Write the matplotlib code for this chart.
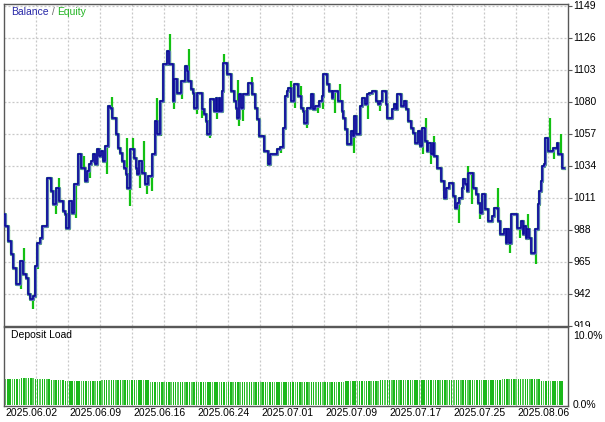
import numpy as np
import matplotlib
matplotlib.use("Agg")
import matplotlib.pyplot as plt
from matplotlib.transforms import Bbox, blended_transform_factory, TransformedBbox

plt.rcParams['font.family'] = ['Liberation Sans', 'DejaVu Sans']

# ---------------- data ----------------
# position of each balance change on the tester's time axis, and balance after it
bal_x = [4, 5, 8, 11, 13, 16, 20, 23, 26, 28, 30, 33, 35, 37, 40, 42, 47, 51, 53, 56,
         59, 63, 65, 66, 69, 72, 74, 78, 81, 85, 87, 89, 91, 93, 95, 97, 99, 101, 103, 105,
         108, 110, 112, 116, 118, 120, 122, 124, 126, 127, 130, 134, 136, 137, 139, 142, 145, 148, 152, 155,
         157, 160, 163, 167, 169, 173, 174, 177, 181, 185, 187, 188, 191, 193, 194, 197, 202, 204, 206, 207,
         210, 214, 216, 217, 219, 220, 222, 223, 227, 231, 234, 236, 237, 239, 241, 243, 248, 252, 255, 257,
         259, 264, 268, 270, 277, 280, 283, 285, 287, 288, 291, 294, 298, 301, 303, 304, 307, 311, 313, 315,
         319, 322, 323, 327, 329, 332, 333, 338, 342, 343, 345, 347, 351, 353, 354, 356, 360, 362, 365, 367,
         369, 372, 376, 378, 380, 382, 386, 387, 392, 394, 396, 397, 401, 404, 406, 408, 411, 413, 415, 418,
         420, 422, 425, 427, 428, 431, 433, 434, 437, 441, 444, 446, 449, 453, 455, 457, 459, 462, 463, 465,
         467, 468, 473, 476, 478, 480, 482, 485, 488, 492, 494, 498, 500, 504, 506, 507, 509, 511, 517, 521,
         523, 524, 526, 527, 529, 531, 535, 538, 539, 541, 542, 544, 545, 548, 553, 557, 558, 562, 564]
bal_v = [999.5, 990.9, 980.1, 970.8, 960.7, 949.2, 965.7, 956.4, 953.5, 942.0, 938.4, 940.6, 962.1, 978.7, 982.3, 990.9, 1025.4, 1016.0, 1006.7, 1018.2,
         1008.8, 1001.7, 999.5, 989.4, 1008.8, 1000.2, 1021.1, 1042.6, 1032.6, 1023.2, 1030.4, 1035.4, 1037.6, 1042.6, 1035.4, 1046.2, 1041.2, 1044.8, 1037.6, 1048.4,
         1077.1, 1075.7, 1068.5, 1057.0, 1046.9, 1043.3, 1037.6, 1032.6, 1028.3, 1018.2, 1046.2, 1039.8, 1032.6, 1028.3, 1037.6, 1029.0, 1021.1, 1026.8, 1042.6, 1066.3,
         1057.0, 1080.7, 1107.3, 1116.7, 1107.3, 1080.7, 1096.5, 1086.5, 1095.1, 1105.9, 1102.3, 1095.1, 1089.3, 1086.5, 1075.7, 1086.5, 1075.0, 1071.4, 1066.3, 1057.0,
         1082.2, 1073.5, 1082.9, 1073.5, 1082.9, 1073.5, 1087.9, 1108.0, 1100.1, 1087.9, 1080.7, 1075.7, 1068.5, 1085.8, 1075.7, 1085.8, 1093.7, 1085.8, 1075.7, 1067.8,
         1055.6, 1044.8, 1035.4, 1042.6, 1046.2, 1047.5, 1061.3, 1084.3, 1087.9, 1090.1, 1080.7, 1092.9, 1084.3, 1075.7, 1073.5, 1064.9, 1075.7, 1085.8, 1075.0, 1077.1,
         1080.7, 1084.3, 1100.1, 1093.0, 1087.9, 1082.9, 1087.9, 1080.7, 1073.5, 1068.5, 1060.6, 1049.8, 1059.2, 1055.6, 1069.9, 1057.0, 1077.1, 1082.9, 1078.6, 1085.8,
         1086.5, 1087.9, 1080.7, 1078.6, 1080.7, 1087.9, 1078.6, 1068.5, 1075.0, 1078.6, 1075.0, 1085.8, 1077.1, 1080.7, 1075.0, 1066.3, 1061.3, 1057.7, 1050.5, 1059.2,
         1048.4, 1061.3, 1052.0, 1044.8, 1050.5, 1042.6, 1050.5, 1041.2, 1032.6, 1023.2, 1011.0, 1018.2, 1021.8, 1012.4, 1003.8, 1007.4, 1011.0, 1018.2, 1024.7, 1021.1,
         1016.0, 1029.0, 1018.2, 1013.9, 1007.4, 1000.2, 1013.9, 1003.1, 994.5, 998.1, 1003.8, 994.5, 985.1, 988.7, 978.7, 988.7, 978.7, 999.5, 989.4, 994.5,
         985.1, 990.9, 982.3, 988.7, 982.3, 971.5, 988.7, 1006.7, 1016.0, 1023.2, 1034.0, 1035.4, 1054.1, 1044.8, 1046.9, 1050.5, 1042.6, 1032.6, 1032.6]

# equity extremes (floating P/L excursions) away from the balance line
eq_x = [20, 23, 32, 37, 55, 58, 75, 83, 89, 99, 106, 111, 126, 129, 132, 139, 143, 146, 151, 156,
        160, 169, 173, 181, 188, 196, 201, 209, 216, 223, 237, 238, 242, 251, 267, 280, 290, 294, 300, 306,
        317, 322, 334, 339, 353, 367, 379, 422, 425, 430, 433, 443, 458, 467, 471, 479, 497, 509, 519, 527,
        535, 549, 553, 560]
eq_v = [945.6, 975.1, 931.2, 960.0, 999.5, 1025.4, 996.6, 1041.2, 1025.4, 1046.9, 1028.3, 1083.6, 1054.1, 1005.3, 1054.1, 1018.2, 1052.0, 1013.9, 1016.0, 1082.9,
        1055.6, 1128.9, 1075.0, 1082.2, 1118.1, 1071.4, 1068.5, 1054.1, 1067.8, 1114.5, 1095.8, 1062.8, 1066.3, 1098.0, 1034.0, 1043.3, 1095.1, 1075.7, 1091.5, 1061.3,
        1072.1, 1075.0, 1072.1, 1092.9, 1043.3, 1067.8, 1073.5, 1042.6, 1068.5, 1035.4, 1055.6, 1016.0, 993.0, 1034.0, 1006.7, 995.9, 1018.2, 971.5, 982.3, 999.5,
        963.6, 1068.5, 1039.0, 1057.0]

# deposit load (%) read per stretch of the test
load_start = [4, 20, 35, 50, 65, 100, 130, 150, 200, 240, 300, 345, 380, 440, 500, 540]
load_pct = [3.7, 3.9, 3.7, 3.6, 3.5, 3.55, 3.6, 3.4, 3.3, 3.4, 3.3, 3.5, 3.6, 3.6, 3.75, 3.5]

y_ticks = [919, 942, 965, 988, 1011, 1034, 1057, 1080, 1103, 1126, 1149]
date_pos = [4, 68, 132, 196, 260, 324, 388, 452, 516]
date_labels = ["2025.06.02", "2025.06.09", "2025.06.16", "2025.06.24", "2025.07.01",
               "2025.07.09", "2025.07.17", "2025.07.25", "2025.08.06"]

# ---------------- figure ----------------
W, H = 605, 422
fig = plt.figure(figsize=(W / 100, H / 100), dpi=100)
fig.patch.set_facecolor('white')

def rect(l, t, r, b):
    return [l / W, 1 - b / H, (r - l) / W, (b - t) / H]

ax = fig.add_axes(rect(4, 4, 568, 326))
ax2 = fig.add_axes(rect(4, 327, 568, 406))

frame_c = '#585858'
grid_c = '#c8c8c8'
XMIN, XMAX = 4, 568
for a in (ax, ax2):
    a.set_xlim(XMIN, XMAX)
    for s in a.spines.values():
        s.set_color(frame_c)
        s.set_linewidth(1.0)
    a.set_xticks([])
    a.tick_params(left=False, labelleft=False, bottom=False, labelbottom=False)
    for gx in range(36, 568, 32):
        a.axvline(gx, color=grid_c, lw=0.9, ls=(0, (1.6, 1.6)), zorder=0)

ax.set_ylim(919, 1149 + 1.5)
for yv in y_ticks[1:]:
    ax.axhline(yv, color=grid_c, lw=0.9, ls=(0, (1.6, 1.6)), zorder=0)

bx = np.array(bal_x, dtype=float)
bv = np.array(bal_v, dtype=float)

# equity: follows balance and spikes out at the excursions
green = '#12c012'
ax.step(bx, bv, where='post', color=green, lw=2.3, zorder=2)
idx = np.searchsorted(bx, np.array(eq_x), side='right') - 1
ax.vlines(np.array(eq_x, dtype=float) + 0.8, bv[idx], np.array(eq_v), color=green, lw=1.6, zorder=2)
# balance (light halo + dark core)
ax.step(bx, bv, where='post', color='#6a6ad8', lw=1.9, zorder=3)
ax.step(bx, bv, where='post', color='#0c0c96', lw=1.2, zorder=4)

# right-side y labels
ax.yaxis.tick_right()
ax.set_yticks(y_ticks)
ax.tick_params(axis='y', right=True, labelright=False, length=3, width=0.8, color=frame_c, direction='out')
yt = blended_transform_factory(ax.transAxes, ax.transData)
clip = Bbox.from_extents(0, 1 - 326.5 / H, 1, 1)
for yv in y_ticks:
    t = ax.text(1.0 + 5 / 564, yv, str(yv), transform=yt, ha='left', va='center',
                fontsize=7.5, color='#000000', clip_on=False)
    if yv == 919:
        t.set_clip_on(True)
        t.set_clip_box(TransformedBbox(clip, fig.transFigure))

# legend text
t1 = ax.text(7 / 564, 1 - 8 / 322, "Balance", transform=ax.transAxes, fontsize=7.5,
             color='#2828a8', ha='left', va='center')
t2 = ax.annotate(" / ", xy=(1, 0), xycoords=t1, va='bottom', ha='left', fontsize=7.5, color='#707070')
t3 = ax.annotate("Equity", xy=(1, 0), xycoords=t2, va='bottom', ha='left', fontsize=7.5, color='#22b422')

# ---------------- deposit load panel ----------------
ax2.set_ylim(-0.15, 11.3)
bar_x = np.arange(5.5, 563, 2.3)
seg = np.searchsorted(np.array(load_start), bar_x, side='right') - 1
bar_h = np.array(load_pct)[seg]
cols = ['#1cb81c' if i % 3 else '#5ccc5c' for i in range(len(bar_x))]
ax2.bar(bar_x, bar_h, width=1.5, color=cols, linewidth=0, zorder=2)
ax2.text(7 / 564, 1 - 8 / 79, "Deposit Load", transform=ax2.transAxes, fontsize=7.5,
         color='#000000', ha='left', va='center')
yt2 = blended_transform_factory(ax2.transAxes, ax2.transData)
ax2.text(1.0 + 5 / 564, 10.0, "10.0%", transform=yt2, ha='left', va='center', fontsize=7.5, color='#000000')
ax2.text(1.0 + 5 / 564, 0.0, "0.0%", transform=yt2, ha='left', va='center', fontsize=7.5, color='#000000')

xt = blended_transform_factory(ax2.transData, ax2.transAxes)
for p, lab in zip(date_pos, date_labels):
    ax2.text(p + 1, -0.03, lab, transform=xt, ha='left', va='top', fontsize=7.5, color='#000000')

fig.savefig("out.png", dpi=100, facecolor='white')
